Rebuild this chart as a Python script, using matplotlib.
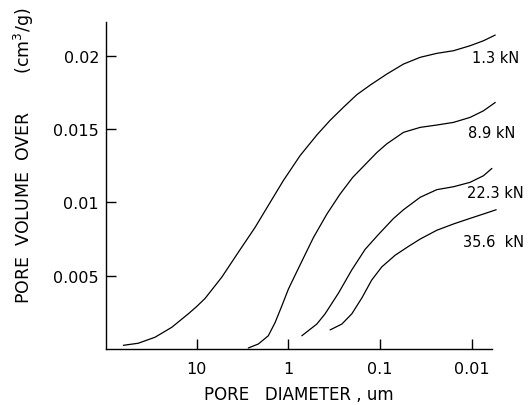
import matplotlib
matplotlib.use("Agg")
import matplotlib.pyplot as plt
from matplotlib.ticker import FixedLocator, FixedFormatter, NullLocator

plt.rcParams['font.family'] = ['DejaVu Sans']

# Pore diameter (um) and cumulative pore volume (cm3/g)
d_13 = [63.1, 43.4, 28.5, 18.7, 12.4, 10.0, 8.11, 5.33, 3.52, 2.31, 1.585, 1.135,
        0.746, 0.491, 0.352, 0.251, 0.180, 0.129, 0.0847, 0.0558, 0.0367, 0.0242,
        0.0159, 0.0105, 0.0075, 0.00558]
v_13 = [0.00025, 0.00039, 0.0008, 0.00148, 0.00239, 0.0029, 0.00345, 0.0049, 0.0066,
        0.0083, 0.0100, 0.0115, 0.0132, 0.0146, 0.0156, 0.0165, 0.01735, 0.0180,
        0.01876, 0.01944, 0.0199, 0.02017, 0.02035, 0.02069, 0.02103, 0.02142]

d_89 = [2.74, 2.13, 1.66, 1.40, 1.18, 1.0, 0.78, 0.535, 0.382, 0.274, 0.200, 0.140,
        0.109, 0.0847, 0.0558, 0.0367, 0.0242, 0.0159, 0.0105, 0.0075, 0.00558]
v_89 = [0.00007, 0.00034, 0.0009, 0.0018, 0.00295, 0.0041, 0.0055, 0.0076, 0.0092,
        0.01057, 0.0117, 0.0127, 0.0134, 0.0140, 0.01478, 0.01512, 0.01528, 0.01546,
        0.0158, 0.01625, 0.01682]

d_223 = [0.716, 0.491, 0.399, 0.286, 0.204, 0.146, 0.105, 0.0718, 0.0558, 0.0367,
         0.0242, 0.0159, 0.0105, 0.0075, 0.00607]
v_223 = [0.0009, 0.0017, 0.0024, 0.0038, 0.0054, 0.0068, 0.0078, 0.0089, 0.0095,
         0.01035, 0.01087, 0.01107, 0.01137, 0.01182, 0.01232]

d_356 = [0.352, 0.262, 0.204, 0.158, 0.124, 0.0962, 0.0687, 0.0492, 0.0367, 0.0242,
         0.0159, 0.0105, 0.0075, 0.00545]
v_356 = [0.0013, 0.0017, 0.0024, 0.0035, 0.0047, 0.0056, 0.0064, 0.0070, 0.0075,
         0.0081, 0.00853, 0.00891, 0.00921, 0.0095]

labels = ["1.3 kN", "8.9 kN", "22.3 kN", "35.6  kN"]

x_ticks = [10, 1, 0.1, 0.01]
x_ticklabels = ["10", "1", "0.1", "0.01"]
y_ticks = [0.005, 0.01, 0.015, 0.02]
y_ticklabels = ["0.005", "0.01", "0.015", "0.02"]

# label anchor positions (layout)
label_pos = [(0.0100, 0.0199), (0.0110, 0.0148), (0.0114, 0.0107), (0.0125, 0.0073)]

fig = plt.figure(figsize=(5.31, 4.06), dpi=100)
ax = fig.add_axes([0.1996, 0.138, 0.727, 0.805])

for d, v in [(d_13, v_13), (d_89, v_89), (d_223, v_223), (d_356, v_356)]:
    ax.plot(d, v, color='black', lw=0.9, clip_on=False, solid_capstyle='round',
            solid_joinstyle='round')

ax.set_xscale('log')
ax.set_xlim(97.5, 0.00605)
ax.set_ylim(0, 0.0223)

ax.xaxis.set_major_locator(FixedLocator(x_ticks))
ax.xaxis.set_major_formatter(FixedFormatter(x_ticklabels))
ax.xaxis.set_minor_locator(NullLocator())
ax.yaxis.set_major_locator(FixedLocator(y_ticks))
ax.yaxis.set_major_formatter(FixedFormatter(y_ticklabels))

ax.spines['top'].set_visible(False)
ax.spines['right'].set_visible(False)
for s in ['left', 'bottom']:
    ax.spines[s].set_linewidth(1.0)

ax.tick_params(axis='x', direction='in', length=7, width=1.0, pad=9, labelsize=11.5)
ax.tick_params(axis='y', direction='in', length=7, width=1.0, pad=5, labelsize=11.5)

for lab, (x, y) in zip(labels, label_pos):
    ax.text(x, y, lab, fontsize=10.5, ha='left', va='center', clip_on=False)

ax.set_xlabel("PORE   DIAMETER , um", fontsize=12, labelpad=6)
fig.text(0.045, 0.25, "PORE  VOLUME  OVER       (cm$^3$/g)", rotation=90,
         ha='center', va='bottom', fontsize=12.5)

fig.savefig("out.png", dpi=100)
